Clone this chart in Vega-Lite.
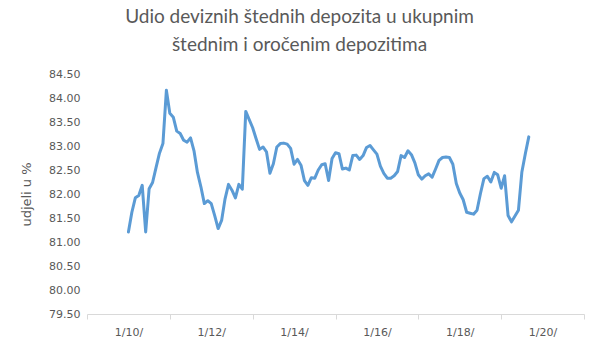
{
  "$schema": "https://vega.github.io/schema/vega-lite/v6.json",
  "autosize": {"type": "none"},
  "width": 497,
  "height": 240,
  "padding": {"left": 87, "top": 74, "right": 16, "bottom": 43},
  "background": "white",
  "config": {"view": {"stroke": null}},
  "title": {
    "text": ["Udio deviznih štednih depozita u ukupnim", "štednim i oročenim depozitima"],
    "font": "Lato",
    "fontSize": 19,
    "fontWeight": "normal",
    "color": "#595959",
    "anchor": "middle",
    "dx": -36,
    "lineHeight": 28,
    "offset": 13
  },
  "data": {"values": [
    {"t":0,"v":81.21},{"t":1,"v":81.62},{"t":2,"v":81.92},{"t":3,"v":81.97},{"t":4,"v":82.18},
    {"t":5,"v":81.21},{"t":6,"v":82.11},{"t":7,"v":82.24},{"t":8,"v":82.55},{"t":9,"v":82.85},
    {"t":10,"v":83.05},{"t":11,"v":84.16},{"t":12,"v":83.68},{"t":13,"v":83.6},{"t":14,"v":83.31},
    {"t":15,"v":83.26},{"t":16,"v":83.12},{"t":17,"v":83.08},{"t":18,"v":83.17},{"t":19,"v":82.9},
    {"t":20,"v":82.45},{"t":21,"v":82.15},{"t":22,"v":81.8},{"t":23,"v":81.86},{"t":24,"v":81.8},
    {"t":25,"v":81.55},{"t":26,"v":81.28},{"t":27,"v":81.45},{"t":28,"v":81.9},{"t":29,"v":82.2},
    {"t":30,"v":82.08},{"t":31,"v":81.92},{"t":32,"v":82.2},{"t":33,"v":82.1},{"t":34,"v":83.72},
    {"t":35,"v":83.55},{"t":36,"v":83.38},{"t":37,"v":83.15},{"t":38,"v":82.93},{"t":39,"v":82.98},
    {"t":40,"v":82.88},{"t":41,"v":82.43},{"t":42,"v":82.63},{"t":43,"v":82.98},{"t":44,"v":83.05},
    {"t":45,"v":83.06},{"t":46,"v":83.04},{"t":47,"v":82.95},{"t":48,"v":82.62},{"t":49,"v":82.72},
    {"t":50,"v":82.6},{"t":51,"v":82.28},{"t":52,"v":82.18},{"t":53,"v":82.34},{"t":54,"v":82.33},
    {"t":55,"v":82.5},{"t":56,"v":82.61},{"t":57,"v":82.63},{"t":58,"v":82.28},{"t":59,"v":82.74},
    {"t":60,"v":82.86},{"t":61,"v":82.84},{"t":62,"v":82.52},{"t":63,"v":82.54},{"t":64,"v":82.5},
    {"t":65,"v":82.8},{"t":66,"v":82.81},{"t":67,"v":82.72},{"t":68,"v":82.8},{"t":69,"v":82.97},
    {"t":70,"v":83.01},{"t":71,"v":82.92},{"t":72,"v":82.83},{"t":73,"v":82.58},{"t":74,"v":82.43},
    {"t":75,"v":82.33},{"t":76,"v":82.33},{"t":77,"v":82.38},{"t":78,"v":82.47},{"t":79,"v":82.8},
    {"t":80,"v":82.76},{"t":81,"v":82.9},{"t":82,"v":82.82},{"t":83,"v":82.65},{"t":84,"v":82.4},
    {"t":85,"v":82.31},{"t":86,"v":82.38},{"t":87,"v":82.42},{"t":88,"v":82.35},{"t":89,"v":82.52},
    {"t":90,"v":82.7},{"t":91,"v":82.76},{"t":92,"v":82.77},{"t":93,"v":82.76},{"t":94,"v":82.62},
    {"t":95,"v":82.22},{"t":96,"v":82.02},{"t":97,"v":81.88},{"t":98,"v":81.62},{"t":99,"v":81.6},
    {"t":100,"v":81.58},{"t":101,"v":81.66},{"t":102,"v":82.01},{"t":103,"v":82.32},{"t":104,"v":82.37},
    {"t":105,"v":82.25},{"t":106,"v":82.45},{"t":107,"v":82.4},{"t":108,"v":82.12},{"t":109,"v":82.38},
    {"t":110,"v":81.55},{"t":111,"v":81.42},{"t":112,"v":81.54},{"t":113,"v":81.66},{"t":114,"v":82.46},
    {"t":115,"v":82.84},{"t":116,"v":83.19}
  ]},
  "mark": {"type": "line", "color": "#5B9BD5", "strokeWidth": 3, "strokeJoin": "round", "strokeCap": "round"},
  "encoding": {
    "x": {
      "field": "t",
      "type": "quantitative",
      "scale": {"domain": [-12, 132], "nice": false, "zero": false},
      "axis": {
        "title": null,
        "values": [-12, 12, 36, 60, 84, 108, 132],
        "labelExpr": "datum.value >= 132 ? '' : '1/' + (10 + (datum.value + 12) / 12) + '/'",
        "labelOffset": 41.4,
        "labelOverlap": false,
        "labelBound": false,
        "labelFlush": false,
        "labelFont": "DejaVu Sans",
        "labelFontSize": 11,
        "labelColor": "#595959",
        "labelPadding": 7,
        "domainColor": "#D9D9D9",
        "tickColor": "#D9D9D9",
        "tickSize": 5,
        "grid": false
      }
    },
    "y": {
      "field": "v",
      "type": "quantitative",
      "scale": {"domain": [79.5, 84.5], "nice": false, "zero": false},
      "axis": {
        "title": "udjeli u %",
        "titleFont": "DejaVu Sans",
        "titleFontSize": 13,
        "titleFontWeight": "normal",
        "titleColor": "#595959",
        "titlePadding": 15,
        "values": [79.5, 80, 80.5, 81, 81.5, 82, 82.5, 83, 83.5, 84, 84.5],
        "format": ".2f",
        "labelFont": "DejaVu Sans",
        "labelFontSize": 11,
        "labelColor": "#595959",
        "labelPadding": 7,
        "domain": false,
        "ticks": false,
        "grid": false
      }
    }
  }
}
